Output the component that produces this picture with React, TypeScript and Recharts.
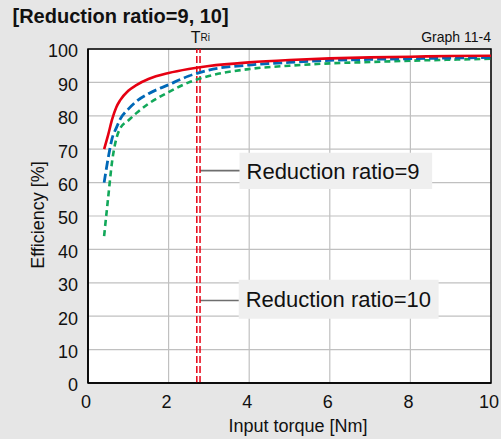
import React from "react";
import {
  LineChart,
  Line,
  XAxis,
  YAxis,
  CartesianGrid,
  ReferenceLine,
  ReferenceArea,
} from "recharts";

// Input torque [Nm]
const torque = [0.4, 0.5, 0.6, 0.7, 0.8, 1.0, 1.2, 1.5, 2, 2.5, 3, 4, 5, 6, 7, 8, 9, 10];
// Efficiency [%]
const effSolid = [70, 74.3, 79, 82.5, 84.7, 87.5, 89.2, 91.0, 92.8, 94.0, 94.9, 96.0, 96.7, 97.2, 97.5, 97.7, 97.9, 98.0];
const effDashed = [60, 67.3, 73.3, 76.3, 79, 82, 84.3, 86.6, 89.3, 91.9, 93.7, 95.2, 96.0, 96.6, 96.9, 97.1, 97.3, 97.5];
const effDotted = [44, 55.5, 66.5, 73, 76.3, 78.6, 80.8, 83.6, 87.1, 90, 91.9, 94, 95, 95.7, 96.1, 96.5, 96.8, 97.1];

const xTicks = [0, 2, 4, 6, 8, 10];
const yTicks = [0, 10, 20, 30, 40, 50, 60, 70, 80, 90, 100];

// Rated input torque markers (T_Ri)
const ratedTorque = [2.7, 2.78];

const callouts = [
  { text: "Reduction ratio=9", y: 63.6, boxLeft: 3.76, boxRight: 8.54, boxTop: 68.9, boxBottom: 58.1 },
  { text: "Reduction ratio=10", y: 24.7, boxLeft: 3.74, boxRight: 8.7, boxTop: 30.9, boxBottom: 19.2 },
];

const rows = torque.map((t, i) => ({
  t,
  solid: effSolid[i],
  dashed: effDashed[i],
  dotted: effDotted[i],
}));

const FONT = "'Liberation Sans', Arial, Helvetica, sans-serif";
const RED = "#e60012";
const BLUE = "#0068b7";
const GREEN = "#12a85a";

const TriLabel = (props: any) => {
  const vb = props.viewBox || {};
  const cx = vb.x ?? 0;
  const top = vb.y ?? 0;
  return (
    <text x={cx - 6} y={top - 6} fontFamily={FONT} fill="#111">
      <tspan fontSize={16}>T</tspan>
      <tspan fontSize={10} dy={-2}>Ri</tspan>
    </text>
  );
};

export default function App() {
  return (
    <div
      style={{
        position: "absolute",
        left: 0,
        top: 0,
        width: 501,
        height: 439,
        background: "#e6e6e6",
        overflow: "hidden",
      }}
    >
      <LineChart
        width={501}
        height={439}
        data={rows}
        margin={{ top: 49, right: 10, bottom: 0, left: 0 }}
      >
        <CartesianGrid stroke="#c0c0c0" strokeWidth={1.2} fill="#ffffff" horizontalValues={yTicks} verticalValues={xTicks} />
        <XAxis
          dataKey="t"
          type="number"
          domain={[0, 10]}
          ticks={xTicks}
          height={56}
          tickSize={0}
          tickMargin={12}
          axisLine={{ stroke: "#000", strokeWidth: 1.5 }}
          tick={{ fontSize: 18, fill: "#111", fontFamily: FONT, dx: -2 }}
          interval={0}
        />
        <YAxis
          type="number"
          domain={[0, 100]}
          ticks={yTicks}
          width={88}
          tickSize={0}
          tickMargin={10}
          axisLine={{ stroke: "#000", strokeWidth: 1.5 }}
          tick={{ fontSize: 18, fill: "#111", fontFamily: FONT, dy: 2 }}
          interval={0}
        />
        {callouts.map((c) => (
          <ReferenceLine
            key={c.text + "-lead"}
            segment={[
              { x: ratedTorque[1], y: c.y },
              { x: c.boxLeft, y: c.y },
            ]}
            stroke="#6e6e6e"
            strokeWidth={1.6}
          />
        ))}
        {callouts.map((c) => (
          <ReferenceArea
            key={c.text}
            x1={c.boxLeft}
            x2={c.boxRight}
            y1={c.boxBottom}
            y2={c.boxTop}
            fill="#efefef"
            fillOpacity={1}
            stroke="none"
            label={{
              value: c.text,
              position: "insideLeft",
              offset: 7,
              fontSize: 22,
              fill: "#111",
              fontFamily: FONT,
            }}
          />
        ))}
        {ratedTorque.map((x, i) => (
          <ReferenceLine
            key={x}
            x={x}
            stroke={RED}
            strokeWidth={1.5}
            strokeDasharray="7 3"
            label={i === 0 ? <TriLabel /> : undefined}
          />
        ))}
        <Line
          type="monotone"
          dataKey="dotted"
          stroke={GREEN}
          strokeWidth={2.6}
          strokeDasharray="6 4"
          dot={false}
          isAnimationActive={false}
        />
        <Line
          type="monotone"
          dataKey="dashed"
          stroke={BLUE}
          strokeWidth={2.8}
          strokeDasharray="9 4"
          dot={false}
          isAnimationActive={false}
        />
        <Line
          type="monotone"
          dataKey="solid"
          stroke={RED}
          strokeWidth={2.6}
          dot={false}
          isAnimationActive={false}
        />
        <ReferenceArea
          x1={0}
          x2={10}
          y1={0}
          y2={100}
          fill="none"
          stroke="#000"
          strokeWidth={1.5}
        />
      </LineChart>
      <svg
        width={501}
        height={439}
        style={{ position: "absolute", left: 0, top: 0, pointerEvents: "none" }}
      >
        <text x={12.5} y={22.5} fontFamily={FONT} fontWeight="bold" fontSize={20} fill="#111">
          [Reduction ratio=9, 10]
        </text>
        <text x={491} y={41.5} textAnchor="end" fontFamily={FONT} fontSize={14} fill="#111">
          Graph 11-4
        </text>
        <text x={298} y={431.5} textAnchor="middle" fontFamily={FONT} fontSize={18} fill="#111">
          Input torque [Nm]
        </text>
        <text
          x={43.5}
          y={215}
          textAnchor="middle"
          fontFamily={FONT}
          fontSize={18}
          fill="#111"
          transform="rotate(-90 43.5 215)"
        >
          Efficiency [%]
        </text>
      </svg>
    </div>
  );
}
